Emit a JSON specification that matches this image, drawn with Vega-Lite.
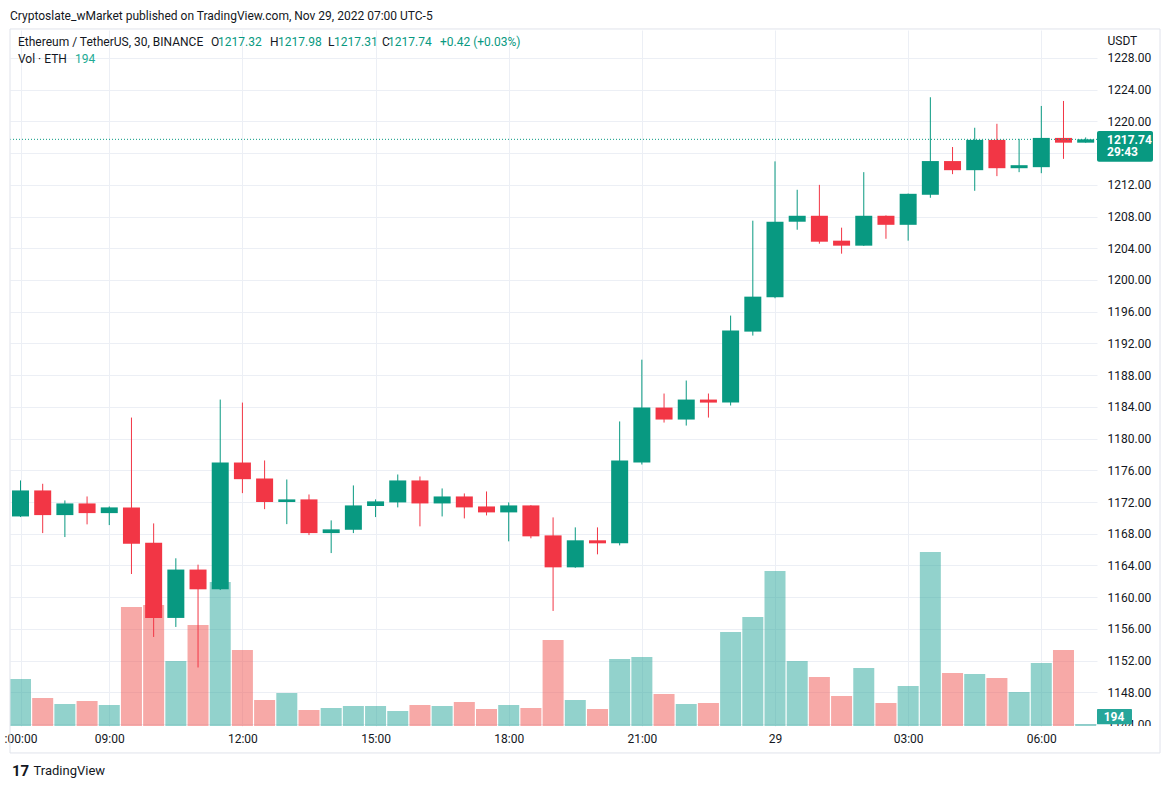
{
  "$schema": "https://vega.github.io/schema/vega-lite/v6.json",
  "width": 1087,
  "height": 696,
  "autosize": {"type": "none"},
  "padding": {"left": 10, "top": 30, "right": 74, "bottom": 62},
  "background": "#ffffff",
  "config": {"view": {"stroke": null}, "font": "Roboto", "text": {"font": "Roboto"}},
  "title": {"text": "Cryptoslate_wMarket published on TradingView.com, Nov 29, 2022 07:00 UTC-5", "anchor": "start", "frame": "group", "font": "Roboto", "fontSize": 12, "fontWeight": "normal", "color": "#131722", "offset": 5},
  "data": {"values": [
    {"t": "2022-11-28T07:00:00Z", "o": 1170.18, "h": 1174.72, "l": 1170.1, "c": 1173.46, "v": 4700},
    {"t": "2022-11-28T07:30:00Z", "o": 1173.46, "h": 1174.3, "l": 1168.08, "c": 1170.35, "v": 2800},
    {"t": "2022-11-28T08:00:00Z", "o": 1170.35, "h": 1172.2, "l": 1167.58, "c": 1171.82, "v": 2200},
    {"t": "2022-11-28T08:30:00Z", "o": 1171.82, "h": 1172.7, "l": 1169.18, "c": 1170.6, "v": 2500},
    {"t": "2022-11-28T09:00:00Z", "o": 1170.6, "h": 1171.44, "l": 1169.09, "c": 1171.32, "v": 2100},
    {"t": "2022-11-28T09:30:00Z", "o": 1171.32, "h": 1182.65, "l": 1162.92, "c": 1166.75, "v": 11900},
    {"t": "2022-11-28T10:00:00Z", "o": 1166.85, "h": 1169.3, "l": 1154.98, "c": 1157.38, "v": 12100},
    {"t": "2022-11-28T10:30:00Z", "o": 1157.38, "h": 1164.9, "l": 1156.24, "c": 1163.48, "v": 6500},
    {"t": "2022-11-28T11:00:00Z", "o": 1163.48, "h": 1164.1, "l": 1151.13, "c": 1160.99, "v": 10100},
    {"t": "2022-11-28T11:30:00Z", "o": 1160.99, "h": 1184.92, "l": 1160.9, "c": 1176.98, "v": 14400},
    {"t": "2022-11-28T12:00:00Z", "o": 1176.98, "h": 1184.54, "l": 1173.12, "c": 1174.88, "v": 7600},
    {"t": "2022-11-28T12:30:00Z", "o": 1174.95, "h": 1177.24, "l": 1171.1, "c": 1172.0, "v": 2600},
    {"t": "2022-11-28T13:00:00Z", "o": 1172.0, "h": 1174.84, "l": 1169.21, "c": 1172.33, "v": 3300},
    {"t": "2022-11-28T13:30:00Z", "o": 1172.33, "h": 1172.95, "l": 1167.83, "c": 1168.08, "v": 1600},
    {"t": "2022-11-28T14:00:00Z", "o": 1168.08, "h": 1169.68, "l": 1165.56, "c": 1168.55, "v": 1800},
    {"t": "2022-11-28T14:30:00Z", "o": 1168.5, "h": 1174.09, "l": 1168.08, "c": 1171.57, "v": 2000},
    {"t": "2022-11-28T15:00:00Z", "o": 1171.5, "h": 1172.33, "l": 1170.1, "c": 1172.08, "v": 2000},
    {"t": "2022-11-28T15:30:00Z", "o": 1171.95, "h": 1175.47, "l": 1171.32, "c": 1174.72, "v": 1500},
    {"t": "2022-11-28T16:00:00Z", "o": 1174.72, "h": 1175.22, "l": 1168.93, "c": 1171.82, "v": 2100},
    {"t": "2022-11-28T16:30:00Z", "o": 1171.82, "h": 1173.71, "l": 1170.18, "c": 1172.7, "v": 2000},
    {"t": "2022-11-28T17:00:00Z", "o": 1172.7, "h": 1173.08, "l": 1169.93, "c": 1171.32, "v": 2400},
    {"t": "2022-11-28T17:30:00Z", "o": 1171.44, "h": 1173.33, "l": 1170.31, "c": 1170.69, "v": 1700},
    {"t": "2022-11-28T18:00:00Z", "o": 1170.69, "h": 1171.95, "l": 1167.04, "c": 1171.57, "v": 2100},
    {"t": "2022-11-28T18:30:00Z", "o": 1171.57, "h": 1171.6, "l": 1167.42, "c": 1167.67, "v": 1800},
    {"t": "2022-11-28T19:00:00Z", "o": 1167.79, "h": 1170.06, "l": 1158.26, "c": 1163.76, "v": 8600},
    {"t": "2022-11-28T19:30:00Z", "o": 1163.76, "h": 1168.8, "l": 1163.7, "c": 1167.17, "v": 2600},
    {"t": "2022-11-28T20:00:00Z", "o": 1167.17, "h": 1168.8, "l": 1165.4, "c": 1166.79, "v": 1700},
    {"t": "2022-11-28T20:30:00Z", "o": 1166.79, "h": 1182.16, "l": 1166.53, "c": 1177.24, "v": 6700},
    {"t": "2022-11-28T21:00:00Z", "o": 1176.98, "h": 1189.95, "l": 1176.73, "c": 1183.91, "v": 6900},
    {"t": "2022-11-28T21:30:00Z", "o": 1183.91, "h": 1185.68, "l": 1182.02, "c": 1182.4, "v": 3200},
    {"t": "2022-11-28T22:00:00Z", "o": 1182.4, "h": 1187.32, "l": 1181.64, "c": 1184.92, "v": 2200},
    {"t": "2022-11-28T22:30:00Z", "o": 1184.92, "h": 1185.68, "l": 1182.65, "c": 1184.54, "v": 2300},
    {"t": "2022-11-28T23:00:00Z", "o": 1184.54, "h": 1195.51, "l": 1184.17, "c": 1193.62, "v": 9400},
    {"t": "2022-11-28T23:30:00Z", "o": 1193.49, "h": 1207.48, "l": 1192.99, "c": 1197.9, "v": 10900},
    {"t": "2022-11-29T00:00:00Z", "o": 1197.82, "h": 1214.96, "l": 1197.7, "c": 1207.35, "v": 15500},
    {"t": "2022-11-29T00:30:00Z", "o": 1207.35, "h": 1211.38, "l": 1206.34, "c": 1208.1, "v": 6500},
    {"t": "2022-11-29T01:00:00Z", "o": 1208.1, "h": 1212.0, "l": 1204.58, "c": 1204.83, "v": 4900},
    {"t": "2022-11-29T01:30:00Z", "o": 1204.96, "h": 1206.6, "l": 1203.32, "c": 1204.33, "v": 3000},
    {"t": "2022-11-29T02:00:00Z", "o": 1204.33, "h": 1213.6, "l": 1204.3, "c": 1208.1, "v": 5800},
    {"t": "2022-11-29T02:30:00Z", "o": 1208.1, "h": 1208.15, "l": 1205.2, "c": 1206.96, "v": 2300},
    {"t": "2022-11-29T03:00:00Z", "o": 1206.96, "h": 1210.9, "l": 1204.96, "c": 1210.87, "v": 4000},
    {"t": "2022-11-29T03:30:00Z", "o": 1210.75, "h": 1223.05, "l": 1210.37, "c": 1215.0, "v": 17400},
    {"t": "2022-11-29T04:00:00Z", "o": 1215.0, "h": 1216.77, "l": 1213.35, "c": 1213.85, "v": 5300},
    {"t": "2022-11-29T04:30:00Z", "o": 1213.85, "h": 1219.2, "l": 1211.25, "c": 1217.67, "v": 5200},
    {"t": "2022-11-29T05:00:00Z", "o": 1217.67, "h": 1219.7, "l": 1213.1, "c": 1214.1, "v": 4800},
    {"t": "2022-11-29T05:30:00Z", "o": 1214.1, "h": 1217.8, "l": 1213.6, "c": 1214.48, "v": 3400},
    {"t": "2022-11-29T06:00:00Z", "o": 1214.23, "h": 1221.95, "l": 1213.47, "c": 1217.92, "v": 6300},
    {"t": "2022-11-29T06:30:00Z", "o": 1217.92, "h": 1222.58, "l": 1215.28, "c": 1217.32, "v": 7600},
    {"t": "2022-11-29T07:00:00Z", "o": 1217.32, "h": 1217.98, "l": 1217.31, "c": 1217.74, "v": 194}
  ]},
  "resolve": {"scale": {"y": "independent"}, "axis": {"y": "independent"}},
  "layer": [
    {
      "mark": {"type": "bar", "size": 21, "opacity": 0.5},
      "encoding": {
        "x": {"field": "t", "type": "temporal", "scale": {"type": "utc", "padding": 0, "domain": [{"year": 2022, "month": 11, "date": 28, "hours": 6, "minutes": 45, "seconds": 48, "utc": true}, {"year": 2022, "month": 11, "date": 29, "hours": 7, "minutes": 15, "seconds": 18, "utc": true}]},
          "axis": {
            "values": [1669618800000, 1669626000000, 1669636800000, 1669647600000, 1669658400000, 1669669200000, 1669680000000, 1669690800000, 1669701600000],
            "labelExpr": "utchours(datum.value) == 0 ? '29' : (utchours(datum.value) == 7 ? ':00:00' : utcFormat(datum.value, '%H:%M'))",
            "grid": true, "gridColor": "#eceff5", "gridWidth": 1,
            "ticks": false, "domain": false,
            "labelFont": "Roboto", "labelFontSize": 12, "labelColor": "#131722", "labelPadding": 7,
            "labelFlush": false, "labelOverlap": false,
            "title": "TradingView", "titleX": 23, "titleY": 44, "titleAlign": "left", "titleAnchor": "start", "titleBaseline": "middle",
            "titleFont": "Roboto", "titleFontSize": 13, "titleFontWeight": "normal", "titleColor": "#131722"
          }
        },
        "y": {"field": "v", "type": "quantitative", "scale": {"domain": [0, 69600], "nice": false, "zero": true}, "axis": null},
        "color": {"condition": {"test": "datum.c >= datum.o", "value": "#26a69a"}, "value": "#ef5350"}
      }
    },
    {
      "mark": {"type": "rule", "strokeWidth": 1},
      "encoding": {
        "x": {"field": "t", "type": "temporal", "scale": {"type": "utc"}},
        "y": {"field": "l", "type": "quantitative", "scale": {"domain": [1143.75, 1231.53], "nice": false, "zero": false},
          "axis": {
            "orient": "right",
            "values": [1144, 1148, 1152, 1156, 1160, 1164, 1168, 1172, 1176, 1180, 1184, 1188, 1192, 1196, 1200, 1204, 1208, 1212, 1216, 1220, 1224, 1228],
            "labelExpr": "datum.value == 1216 ? '' : format(datum.value, '.2f')",
            "grid": true, "gridColor": "#eceff5", "gridWidth": 1,
            "ticks": false, "domain": false,
            "labelFont": "Roboto", "labelFontSize": 12, "labelColor": "#131722", "labelPadding": 10, "labelAlign": "left", "labelBaseline": "middle",
            "labelFlush": false, "labelOverlap": false,
            "title": "USDT", "titleAngle": 0, "titleX": 10, "titleY": 10, "titleAlign": "left", "titleBaseline": "middle",
            "titleFont": "Roboto", "titleFontSize": 12, "titleFontWeight": "normal", "titleColor": "#131722"
          }
        },
        "y2": {"field": "h"},
        "color": {"condition": {"test": "datum.c >= datum.o", "value": "#089981"}, "value": "#f23645"}
      }
    },
    {
      "mark": {"type": "bar", "size": 17},
      "encoding": {
        "x": {"field": "t", "type": "temporal", "scale": {"type": "utc"}},
        "y": {"field": "o", "type": "quantitative", "scale": {"domain": [1143.75, 1231.53], "nice": false, "zero": false}, "axis": null},
        "y2": {"field": "c"},
        "color": {"condition": {"test": "datum.c >= datum.o", "value": "#089981"}, "value": "#f23645"}
      }
    },
    {
      "data": {"values": [{}]},
      "mark": {"type": "rule", "color": "#089981", "strokeWidth": 1, "strokeDash": [1, 2]},
      "encoding": {"y": {"datum": 1217.74, "type": "quantitative", "scale": {"domain": [1143.75, 1231.53], "nice": false, "zero": false}, "axis": null}}
    },
    {
      "data": {"values": [{}]},
      "mark": {"type": "rect", "color": "#ffffff"},
      "encoding": {
        "x": {"datum": {"year": 2022, "month": 11, "date": 29, "hours": 7, "minutes": 15, "seconds": 18, "utc": true}, "type": "temporal", "scale": {"type": "utc"}},
        "x2": {"datum": {"year": 2022, "month": 11, "date": 29, "hours": 8, "minutes": 38, "utc": true}},
        "y": {"datum": 1143.75, "type": "quantitative", "scale": {"domain": [1143.75, 1231.53], "nice": false, "zero": false}, "axis": null},
        "y2": {"datum": 1142.9}
      }
    },
    {
      "data": {"values": [{}]},
      "mark": {"type": "rule", "color": "#e0e3eb", "strokeWidth": 1},
      "encoding": {
        "x": {"datum": {"year": 2022, "month": 11, "date": 28, "hours": 6, "minutes": 45, "seconds": 48, "utc": true}, "type": "temporal", "scale": {"type": "utc"}},
        "y": {"datum": 1231.66, "type": "quantitative", "scale": {"domain": [1143.75, 1231.53], "nice": false, "zero": false}, "axis": null},
        "y2": {"datum": 1140.35}
      }
    },
    {
      "data": {"values": [{}]},
      "mark": {"type": "rule", "color": "#e0e3eb", "strokeWidth": 1},
      "encoding": {
        "x": {"datum": {"year": 2022, "month": 11, "date": 29, "hours": 8, "minutes": 40, "seconds": 30, "utc": true}, "type": "temporal", "scale": {"type": "utc"}},
        "y": {"datum": 1231.66, "type": "quantitative", "scale": {"domain": [1143.75, 1231.53], "nice": false, "zero": false}, "axis": null},
        "y2": {"datum": 1140.35}
      }
    },
    {
      "data": {"values": [{}]},
      "mark": {"type": "rule", "color": "#e0e3eb", "strokeWidth": 1},
      "encoding": {
        "x": {"datum": {"year": 2022, "month": 11, "date": 28, "hours": 6, "minutes": 45, "seconds": 48, "utc": true}, "type": "temporal", "scale": {"type": "utc"}},
        "x2": {"datum": {"year": 2022, "month": 11, "date": 29, "hours": 8, "minutes": 40, "seconds": 30, "utc": true}},
        "y": {"datum": 1231.66, "type": "quantitative", "scale": {"domain": [1143.75, 1231.53], "nice": false, "zero": false}, "axis": null}
      }
    },
    {
      "data": {"values": [{}]},
      "mark": {"type": "rule", "color": "#e0e3eb", "strokeWidth": 1},
      "encoding": {
        "x": {"datum": {"year": 2022, "month": 11, "date": 28, "hours": 6, "minutes": 45, "seconds": 48, "utc": true}, "type": "temporal", "scale": {"type": "utc"}},
        "x2": {"datum": {"year": 2022, "month": 11, "date": 29, "hours": 8, "minutes": 40, "seconds": 30, "utc": true}},
        "y": {"datum": 1140.35, "type": "quantitative", "scale": {"domain": [1143.75, 1231.53], "nice": false, "zero": false}, "axis": null}
      }
    },
    {
      "data": {"values": [{}]},
      "mark": {"type": "rect", "color": "#089981", "cornerRadius": 2},
      "encoding": {
        "x": {"datum": {"year": 2022, "month": 11, "date": 29, "hours": 7, "minutes": 15, "seconds": 18, "utc": true}, "type": "temporal", "scale": {"type": "utc"}},
        "x2": {"datum": {"year": 2022, "month": 11, "date": 29, "hours": 8, "minutes": 31, "utc": true}},
        "y": {"datum": 1218.8, "type": "quantitative", "scale": {"domain": [1143.75, 1231.53], "nice": false, "zero": false}, "axis": null},
        "y2": {"datum": 1214.9}
      }
    },
    {
      "data": {"values": [{}]},
      "mark": {"type": "text", "text": "1217.74", "align": "left", "baseline": "middle", "dx": 10, "font": "Roboto", "fontSize": 12, "fontWeight": "bold", "color": "#ffffff"},
      "encoding": {
        "x": {"datum": {"year": 2022, "month": 11, "date": 29, "hours": 7, "minutes": 15, "seconds": 18, "utc": true}, "type": "temporal", "scale": {"type": "utc"}},
        "y": {"datum": 1217.66, "type": "quantitative", "scale": {"domain": [1143.75, 1231.53], "nice": false, "zero": false}, "axis": null}
      }
    },
    {
      "data": {"values": [{}]},
      "mark": {"type": "text", "text": "29:43", "align": "left", "baseline": "middle", "dx": 10, "font": "Roboto", "fontSize": 12, "fontWeight": "bold", "color": "#ffffff"},
      "encoding": {
        "x": {"datum": {"year": 2022, "month": 11, "date": 29, "hours": 7, "minutes": 15, "seconds": 18, "utc": true}, "type": "temporal", "scale": {"type": "utc"}},
        "y": {"datum": 1216.11, "type": "quantitative", "scale": {"domain": [1143.75, 1231.53], "nice": false, "zero": false}, "axis": null}
      }
    },
    {
      "data": {"values": [{}]},
      "mark": {"type": "rect", "color": "#26a69a", "cornerRadius": 1},
      "encoding": {
        "x": {"datum": {"year": 2022, "month": 11, "date": 29, "hours": 7, "minutes": 15, "seconds": 18, "utc": true}, "type": "temporal", "scale": {"type": "utc"}},
        "x2": {"datum": {"year": 2022, "month": 11, "date": 29, "hours": 8, "minutes": 2, "seconds": 36, "utc": true}},
        "y": {"datum": 1145.9, "type": "quantitative", "scale": {"domain": [1143.75, 1231.53], "nice": false, "zero": false}, "axis": null},
        "y2": {"datum": 1143.97}
      }
    },
    {
      "data": {"values": [{}]},
      "mark": {"type": "text", "text": "194", "align": "center", "baseline": "middle", "dx": 17, "font": "Roboto", "fontSize": 12, "fontWeight": "bold", "color": "#ffffff"},
      "encoding": {
        "x": {"datum": {"year": 2022, "month": 11, "date": 29, "hours": 7, "minutes": 15, "seconds": 18, "utc": true}, "type": "temporal", "scale": {"type": "utc"}},
        "y": {"datum": 1144.85, "type": "quantitative", "scale": {"domain": [1143.75, 1231.53], "nice": false, "zero": false}, "axis": null}
      }
    },
    {
      "data": {"values": [{}]},
      "mark": {"type": "text", "text": "Ethereum / TetherUS, 30, BINANCE", "align": "left", "baseline": "middle", "dx": 8, "font": "Roboto", "fontSize": 12, "color": "#131722"},
      "encoding": {
        "x": {"datum": {"year": 2022, "month": 11, "date": 28, "hours": 6, "minutes": 45, "seconds": 48, "utc": true}, "type": "temporal", "scale": {"type": "utc"}},
        "y": {"datum": 1230.02, "type": "quantitative", "scale": {"domain": [1143.75, 1231.53], "nice": false, "zero": false}, "axis": null}
      }
    },
    {
      "data": {"values": [{}]},
      "mark": {"type": "text", "text": "O", "align": "left", "baseline": "middle", "dx": 201, "font": "Roboto", "fontSize": 12, "color": "#131722"},
      "encoding": {
        "x": {"datum": {"year": 2022, "month": 11, "date": 28, "hours": 6, "minutes": 45, "seconds": 48, "utc": true}, "type": "temporal", "scale": {"type": "utc"}},
        "y": {"datum": 1230.02, "type": "quantitative", "scale": {"domain": [1143.75, 1231.53], "nice": false, "zero": false}, "axis": null}
      }
    },
    {
      "data": {"values": [{}]},
      "mark": {"type": "text", "text": "1217.32", "align": "left", "baseline": "middle", "dx": 208, "font": "Roboto", "fontSize": 12, "color": "#089981"},
      "encoding": {
        "x": {"datum": {"year": 2022, "month": 11, "date": 28, "hours": 6, "minutes": 45, "seconds": 48, "utc": true}, "type": "temporal", "scale": {"type": "utc"}},
        "y": {"datum": 1230.02, "type": "quantitative", "scale": {"domain": [1143.75, 1231.53], "nice": false, "zero": false}, "axis": null}
      }
    },
    {
      "data": {"values": [{}]},
      "mark": {"type": "text", "text": "H", "align": "left", "baseline": "middle", "dx": 260, "font": "Roboto", "fontSize": 12, "color": "#131722"},
      "encoding": {
        "x": {"datum": {"year": 2022, "month": 11, "date": 28, "hours": 6, "minutes": 45, "seconds": 48, "utc": true}, "type": "temporal", "scale": {"type": "utc"}},
        "y": {"datum": 1230.02, "type": "quantitative", "scale": {"domain": [1143.75, 1231.53], "nice": false, "zero": false}, "axis": null}
      }
    },
    {
      "data": {"values": [{}]},
      "mark": {"type": "text", "text": "1217.98", "align": "left", "baseline": "middle", "dx": 268, "font": "Roboto", "fontSize": 12, "color": "#089981"},
      "encoding": {
        "x": {"datum": {"year": 2022, "month": 11, "date": 28, "hours": 6, "minutes": 45, "seconds": 48, "utc": true}, "type": "temporal", "scale": {"type": "utc"}},
        "y": {"datum": 1230.02, "type": "quantitative", "scale": {"domain": [1143.75, 1231.53], "nice": false, "zero": false}, "axis": null}
      }
    },
    {
      "data": {"values": [{}]},
      "mark": {"type": "text", "text": "L", "align": "left", "baseline": "middle", "dx": 318, "font": "Roboto", "fontSize": 12, "color": "#131722"},
      "encoding": {
        "x": {"datum": {"year": 2022, "month": 11, "date": 28, "hours": 6, "minutes": 45, "seconds": 48, "utc": true}, "type": "temporal", "scale": {"type": "utc"}},
        "y": {"datum": 1230.02, "type": "quantitative", "scale": {"domain": [1143.75, 1231.53], "nice": false, "zero": false}, "axis": null}
      }
    },
    {
      "data": {"values": [{}]},
      "mark": {"type": "text", "text": "1217.31", "align": "left", "baseline": "middle", "dx": 324, "font": "Roboto", "fontSize": 12, "color": "#089981"},
      "encoding": {
        "x": {"datum": {"year": 2022, "month": 11, "date": 28, "hours": 6, "minutes": 45, "seconds": 48, "utc": true}, "type": "temporal", "scale": {"type": "utc"}},
        "y": {"datum": 1230.02, "type": "quantitative", "scale": {"domain": [1143.75, 1231.53], "nice": false, "zero": false}, "axis": null}
      }
    },
    {
      "data": {"values": [{}]},
      "mark": {"type": "text", "text": "C", "align": "left", "baseline": "middle", "dx": 372, "font": "Roboto", "fontSize": 12, "color": "#131722"},
      "encoding": {
        "x": {"datum": {"year": 2022, "month": 11, "date": 28, "hours": 6, "minutes": 45, "seconds": 48, "utc": true}, "type": "temporal", "scale": {"type": "utc"}},
        "y": {"datum": 1230.02, "type": "quantitative", "scale": {"domain": [1143.75, 1231.53], "nice": false, "zero": false}, "axis": null}
      }
    },
    {
      "data": {"values": [{}]},
      "mark": {"type": "text", "text": "1217.74", "align": "left", "baseline": "middle", "dx": 378, "font": "Roboto", "fontSize": 12, "color": "#089981"},
      "encoding": {
        "x": {"datum": {"year": 2022, "month": 11, "date": 28, "hours": 6, "minutes": 45, "seconds": 48, "utc": true}, "type": "temporal", "scale": {"type": "utc"}},
        "y": {"datum": 1230.02, "type": "quantitative", "scale": {"domain": [1143.75, 1231.53], "nice": false, "zero": false}, "axis": null}
      }
    },
    {
      "data": {"values": [{}]},
      "mark": {"type": "text", "text": "+0.42 (+0.03%)", "align": "left", "baseline": "middle", "dx": 430, "font": "Roboto", "fontSize": 12, "color": "#089981"},
      "encoding": {
        "x": {"datum": {"year": 2022, "month": 11, "date": 28, "hours": 6, "minutes": 45, "seconds": 48, "utc": true}, "type": "temporal", "scale": {"type": "utc"}},
        "y": {"datum": 1230.02, "type": "quantitative", "scale": {"domain": [1143.75, 1231.53], "nice": false, "zero": false}, "axis": null}
      }
    },
    {
      "data": {"values": [{}]},
      "mark": {"type": "text", "text": "Vol · ETH", "align": "left", "baseline": "middle", "dx": 8, "font": "Roboto", "fontSize": 12, "color": "#131722"},
      "encoding": {
        "x": {"datum": {"year": 2022, "month": 11, "date": 28, "hours": 6, "minutes": 45, "seconds": 48, "utc": true}, "type": "temporal", "scale": {"type": "utc"}},
        "y": {"datum": 1227.87, "type": "quantitative", "scale": {"domain": [1143.75, 1231.53], "nice": false, "zero": false}, "axis": null}
      }
    },
    {
      "data": {"values": [{}]},
      "mark": {"type": "text", "text": "194", "align": "left", "baseline": "middle", "dx": 65, "font": "Roboto", "fontSize": 12, "color": "#22ab94"},
      "encoding": {
        "x": {"datum": {"year": 2022, "month": 11, "date": 28, "hours": 6, "minutes": 45, "seconds": 48, "utc": true}, "type": "temporal", "scale": {"type": "utc"}},
        "y": {"datum": 1227.87, "type": "quantitative", "scale": {"domain": [1143.75, 1231.53], "nice": false, "zero": false}, "axis": null}
      }
    },
    {
      "data": {"values": [{}]},
      "mark": {"type": "text", "text": "17", "align": "left", "baseline": "middle", "dx": 2, "font": "Roboto", "fontSize": 15, "fontWeight": "bold", "color": "#131722"},
      "encoding": {
        "x": {"datum": {"year": 2022, "month": 11, "date": 28, "hours": 6, "minutes": 45, "seconds": 48, "utc": true}, "type": "temporal", "scale": {"type": "utc"}},
        "y": {"datum": 1138.08, "type": "quantitative", "scale": {"domain": [1143.75, 1231.53], "nice": false, "zero": false}, "axis": null}
      }
    }
  ]
}
